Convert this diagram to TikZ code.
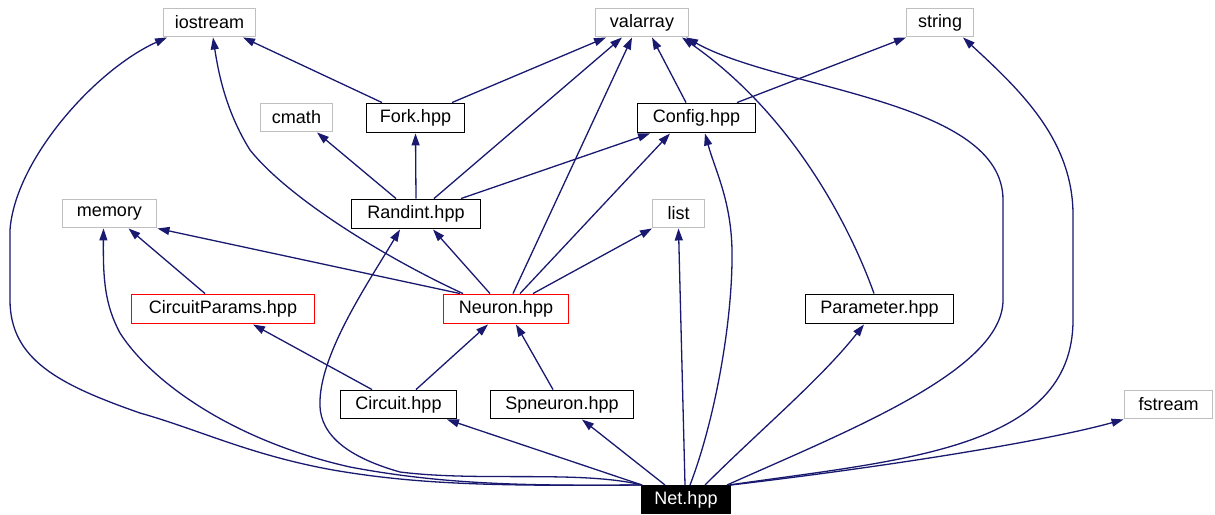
\documentclass[tikz,border=0pt]{standalone}
\usepackage{fontspec}
\setmainfont{Liberation Sans}
\usetikzlibrary{arrows.meta}
\definecolor{edgeblue}{HTML}{191970}
\definecolor{boxgray}{HTML}{BFBFBF}
\tikzset{
  box/.style={rectangle, inner sep=0pt, fill=white, text=black, font=\fontsize{18}{20}\selectfont},
  sysbox/.style={box, draw=boxgray, line width=1.9pt},
  locbox/.style={box, draw=black, line width=1.9pt},
  redbox/.style={box, draw=red, line width=1.9pt},
  netbox/.style={box, draw=black, fill=black, text=white, line width=1pt},
  edge/.style={draw=edgeblue, line width=1.3pt, -{Triangle[length=12pt,width=8pt]}},
}
\begin{document}
\begin{tikzpicture}[x=1pt,y=-1pt]
\useasboundingbox (0,0) rectangle (1215,514);
% nodes
\node[sysbox, minimum width=92pt, minimum height=28pt] (iostream) at (209.5,22.5) {iostream};
\node[sysbox, minimum width=93pt, minimum height=28pt] (valarray) at (642,22.5) {valarray};
\node[sysbox, minimum width=67pt, minimum height=28pt] (string) at (940,22.5) {string};
\node[sysbox, minimum width=72pt, minimum height=28pt] (cmath) at (296.5,117.5) {cmath};
\node[locbox, minimum width=98pt, minimum height=29pt] (fork) at (415.5,118) {Fork.hpp};
\node[locbox, minimum width=118pt, minimum height=29pt] (config) at (696.5,118) {Config.hpp};
\node[sysbox, minimum width=94pt, minimum height=28pt] (memory) at (109.5,213.5) {memory};
\node[locbox, minimum width=129pt, minimum height=29pt] (randint) at (416,214) {Randint.hpp};
\node[sysbox, minimum width=52pt, minimum height=28pt] (list) at (678.5,213.5) {list};
\node[redbox, minimum width=183pt, minimum height=29pt] (circuitparams) at (223,309) {CircuitParams.hpp};
\node[redbox, minimum width=125pt, minimum height=29pt] (neuron) at (506,309) {Neuron.hpp};
\node[locbox, minimum width=148pt, minimum height=29pt] (parameter) at (879.5,309) {Parameter.hpp};
\node[locbox, minimum width=116pt, minimum height=28pt] (circuit) at (398.5,404.5) {Circuit.hpp};
\node[locbox, minimum width=143pt, minimum height=28pt] (spneuron) at (562,404.5) {Spneuron.hpp};
\node[sysbox, minimum width=88pt, minimum height=28pt] (fstream) at (1168.5,404.5) {fstream};
\node[netbox, minimum width=89pt, minimum height=28pt] (net) at (686,499.5) {Net.hpp};
% edges
\draw[edge] ([xshift=-33.5pt]fork.north) -- ([xshift=33.5pt]iostream.south);
\draw[edge] ([xshift=36.5pt]fork.north) -- ([xshift=-36pt]valarray.south);
\draw[edge] ([xshift=-20pt]randint.north) -- ([xshift=20.5pt]cmath.south);
\draw[edge] (randint.north) -- (fork.south);
\draw[edge] ([xshift=18pt]randint.north) -- ([xshift=-20pt]valarray.south);
\draw[edge] ([xshift=45pt]randint.north) -- ([xshift=-46.5pt]config.south);
\draw[edge] ([xshift=-10.5pt]config.north) -- ([xshift=10pt]valarray.south);
\draw[edge] ([xshift=40.5pt]config.north) -- ([xshift=-34pt]string.south);
\draw[edge] ([xshift=-46pt]neuron.north) -- ([xshift=48pt]memory.south);
\draw[edge] ([xshift=-43pt]neuron.north) .. controls (390,260) and (290,200) .. (250,150) .. controls (225,110) and (218,70) .. ([xshift=3.5pt]iostream.south);
\draw[edge] ([xshift=-16pt]neuron.north) -- ([xshift=17pt]randint.south);
\draw[edge] ([xshift=7pt]neuron.north) -- ([xshift=-10pt]valarray.south);
\draw[edge] ([xshift=14pt]neuron.north) -- ([xshift=-26.5pt]config.south);
\draw[edge] ([xshift=27pt]neuron.north) -- ([xshift=-26.5pt]list.south);
\draw[edge] ([xshift=-18pt]circuitparams.north) -- ([xshift=19pt]memory.south);
\draw[edge] ([xshift=-26.5pt]circuit.north) -- ([xshift=30pt]circuitparams.south);
\draw[edge] ([xshift=17.5pt]circuit.north) -- ([xshift=-18pt]neuron.south);
\draw[edge] ([xshift=-9pt]spneuron.north) -- ([xshift=10pt]neuron.south);
\draw[edge] ([xshift=-5.5pt]parameter.north) .. controls (855,240) and (800,120) .. ([xshift=40pt]valarray.south);
% from Net.hpp
\draw[edge] ([xshift=-44pt]net.north) -- ([xshift=48.5pt]circuit.south);
\draw[edge] ([xshift=-21pt]net.north) -- ([xshift=20pt]spneuron.south);
\draw[edge] ([xshift=-1pt]net.north) -- (list.south);
\draw[edge] ([xshift=4pt]net.north) .. controls (715,420) and (733,320) .. (732,250) .. controls (731,200) and (715,170) .. ([xshift=8.5pt]config.south);
\draw[edge] ([xshift=19pt]net.north) .. controls (760,430) and (820,380) .. ([xshift=-15.5pt]parameter.south);
\draw[edge] ([xshift=41pt]net.north) .. controls (850,430) and (1003,370) .. (1003,300) -- (1003,200) .. controls (1003,100) and (780,90) .. ([xshift=44pt]valarray.south);
\draw[edge] ([xshift=43pt]net.north) .. controls (900,460) and (1073,450) .. (1073,320) -- (1073,215) .. controls (1073,140) and (1020,90) .. ([xshift=23pt]string.south);
\draw[edge] (net.north east) .. controls (900,465) and (1050,440) .. (fstream.south west);
\draw[edge] ([xshift=-44pt]net.north) .. controls (500,486) and (420,485) .. (333,470) .. controls (250,455) and (200,430) .. (140,413) .. controls (60,385) and (10,360) .. (10,300) -- (10,230) .. controls (15,160) and (95,70) .. ([xshift=-42.5pt]iostream.south);
\draw[edge] ([xshift=-44pt]net.north) .. controls (520,486) and (440,484) .. (350,467) .. controls (230,440) and (150,380) .. (120,333) .. controls (105,305) and (103,280) .. ([xshift=-6pt]memory.south);
\draw[edge] ([xshift=-44pt]net.north) .. controls (580,470) and (480,482) .. (400,472) .. controls (340,455) and (318,430) .. (320,400) .. controls (322,350) and (370,280) .. ([xshift=-16pt]randint.south);
\end{tikzpicture}
\end{document}
